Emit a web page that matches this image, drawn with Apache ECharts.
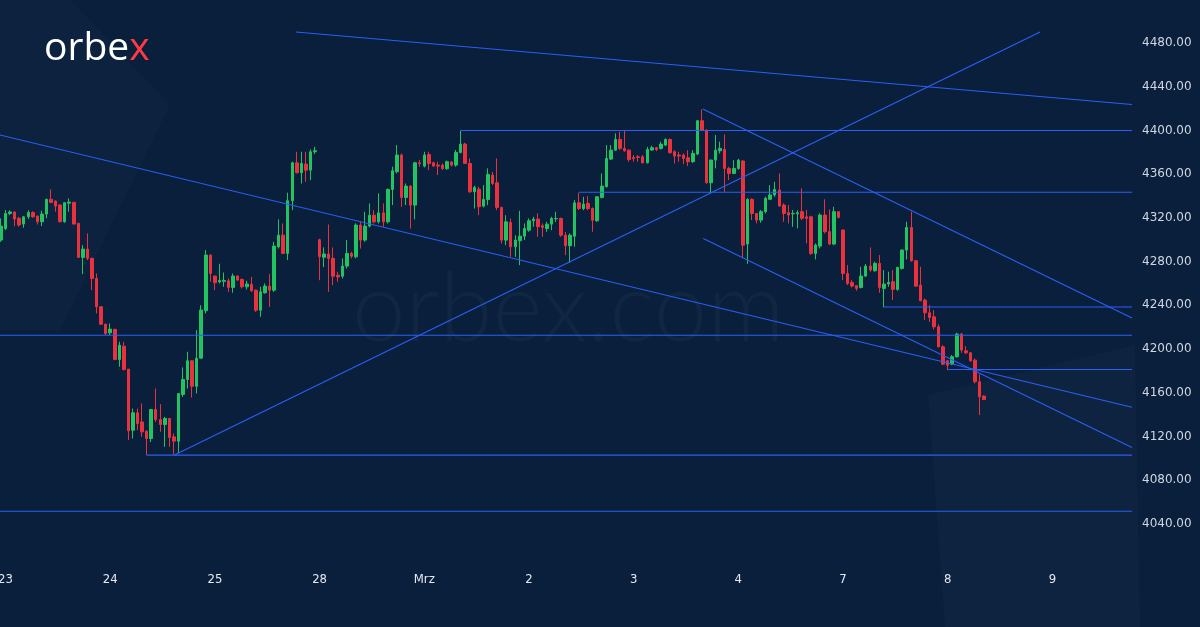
<!DOCTYPE html>
<html>
<head>
<meta charset="utf-8">
<script src="https://cdn.jsdelivr.net/npm/echarts@6/dist/echarts.min.js"></script>
<style>
  html, body { margin: 0; padding: 0; background: #0a1f3c; }
  #chart { width: 1200px; height: 627px; }
</style>
</head>
<body>
<div id="chart"></div>
<script>
// day labels on the time axis, one per 23 hourly candles
const dayLabels = ["23", "24", "25", "28", "Mrz", "2", "3", "4", "7", "8", "9"];
const candlesPerDay = 23;
const slots = 249; // candle slots across the plot, right part stays empty

// hourly candles [open, close, low, high]
const day22 = [[4299.7, 4312.5, 4298, 4319.6]];
const day23 = [
  [4310.4, 4324.1, 4308.9, 4327.2], [4324, 4325.5, 4322.6, 4327], [4325.3, 4319, 4312.5, 4326],
  [4319.6, 4313.5, 4312, 4321], [4314.4, 4321, 4311, 4321.5], [4321, 4325, 4319, 4327],
  [4325, 4321, 4320, 4326], [4321.7, 4316.5, 4314, 4322], [4316.5, 4323.5, 4312.5, 4326.6],
  [4323.5, 4337, 4319.6, 4337.5], [4337, 4334.2, 4333.5, 4346.1], [4335.4, 4330.8, 4325.7, 4336],
  [4331.8, 4316.5, 4316, 4332.5], [4316.5, 4333.9, 4315.5, 4334.5], [4333.5, 4334.5, 4325.7, 4337.9],
  [4334.2, 4314.4, 4314, 4334.8], [4315, 4283.9, 4283.5, 4315.5], [4283.9, 4291.5, 4268.6, 4295.1],
  [4291.5, 4283, 4281.4, 4305.8], [4283, 4264.6, 4254, 4283.5], [4264.6, 4238.7, 4232.6, 4269.2],
  [4238.7, 4222.8, 4222, 4239.2], [4222.8, 4214.3, 4213, 4223.2]
];
const day24 = [
  [4214.9, 4218.3, 4212.8, 4223.4], [4218, 4190.5, 4189.8, 4218.6], [4190.5, 4203.6, 4183.8, 4206.7],
  [4202.7, 4181.3, 4180.5, 4206.7], [4181.6, 4125.2, 4116.7, 4182], [4125.8, 4141.7, 4118.2, 4145.6],
  [4141.7, 4131.9, 4125.8, 4145.6], [4133.4, 4124.3, 4119.7, 4150.2], [4124.9, 4118.2, 4103, 4125.5],
  [4118.2, 4144.7, 4115, 4145.2], [4144.7, 4135.6, 4133.4, 4163.9], [4135.6, 4131, 4124.3, 4149.6],
  [4131, 4136.5, 4110.6, 4138], [4136.5, 4119.1, 4110.6, 4137], [4119.7, 4115.8, 4104, 4122.8],
  [4115.8, 4159.4, 4105, 4159.8], [4158.5, 4172.2, 4156.3, 4183.2], [4172.2, 4189.3, 4163.9, 4197.5],
  [4189.3, 4166, 4155.7, 4189.8], [4166, 4191.7, 4159.4, 4217.4], [4191.7, 4235.7, 4191.4, 4240.2],
  [4235.1, 4286, 4232.6, 4290.6], [4286, 4269.2, 4261.6, 4286.5]
];
const day25 = [
  [4266.8, 4260.7, 4254, 4267.2], [4261.5, 4262.8, 4260, 4278], [4262, 4262.8, 4257, 4270],
  [4262.5, 4256.4, 4252.4, 4264.6], [4256.4, 4266.8, 4251.5, 4269.2], [4266.8, 4263.1, 4262.5, 4267.5],
  [4263.7, 4257, 4255.5, 4264.6], [4257, 4259.5, 4254.5, 4262.5], [4259.4, 4253.3, 4252.4, 4266.1],
  [4253.9, 4235.6, 4234, 4254.5], [4235.6, 4252.4, 4229.5, 4257], [4251.5, 4257.6, 4250.8, 4260],
  [4257.6, 4253.9, 4238.6, 4268.5], [4253.9, 4294.2, 4252.4, 4298.1], [4293.6, 4304.2, 4292, 4318.6],
  [4304.2, 4287.5, 4287, 4314.9], [4287.5, 4335.7, 4281.4, 4343], [4335.7, 4370.4, 4327.1, 4371.4],
  [4370.4, 4361.3, 4360.7, 4380.5], [4361.3, 4369.8, 4351.5, 4380.5], [4369.2, 4363.7, 4353, 4380.5],
  [4363.7, 4380.5, 4354.6, 4382.7], [4380.5, 4381.5, 4378.4, 4385]
];
const day28 = [
  [4300, 4284.5, 4263, 4301], [4284, 4287, 4275, 4293], [4287, 4283, 4252.4, 4314],
  [4283, 4266.7, 4258.5, 4293], [4267.6, 4266, 4261.6, 4270.6], [4266.7, 4275.9, 4264.6, 4282.9],
  [4275.9, 4287.5, 4273.7, 4299.7], [4287.5, 4285, 4283, 4289], [4284.4, 4313.4, 4283, 4315],
  [4313.4, 4299.7, 4292, 4316.4], [4299.7, 4312.5, 4298.1, 4325.6], [4312.5, 4322.5, 4311.3, 4333.2],
  [4322.5, 4316.4, 4315, 4327.1], [4316.4, 4324.6, 4314.9, 4342.4], [4324.6, 4316.4, 4311.9, 4333.2],
  [4316.4, 4346, 4314.9, 4347], [4346, 4363.1, 4331.7, 4366.8], [4362.2, 4377.5, 4360.7, 4386.6],
  [4377.5, 4338.7, 4330.2, 4379], [4338.7, 4349.1, 4331.7, 4351.5], [4349.1, 4331.7, 4310.3, 4349.9],
  [4331.7, 4370.4, 4318.6, 4371.4], [4370.4, 4369.8, 4366.8, 4372.9]
];
const mar1 = [
  [4367.4, 4377.5, 4366.2, 4380.5], [4378, 4369.8, 4363.7, 4380.5], [4370.4, 4367.4, 4366.8, 4371.4],
  [4368.3, 4367.4, 4359.2, 4371.4], [4368.3, 4365, 4363.7, 4369.8], [4365, 4371.4, 4364, 4372.5],
  [4371.1, 4368.3, 4367, 4372], [4368.3, 4379.9, 4366.8, 4382.1], [4379.9, 4387.5, 4379, 4399.7],
  [4387.5, 4369.8, 4369.5, 4388.8], [4369.8, 4343.9, 4343, 4374.4], [4343.9, 4347.9, 4328.6, 4349.4],
  [4346.3, 4330.2, 4322.5, 4348.5], [4330.8, 4336.9, 4329.6, 4350], [4336.9, 4359.8, 4331.7, 4365.3],
  [4359.2, 4351.5, 4350, 4362], [4352.1, 4329.6, 4327.1, 4374.4], [4329.6, 4299.7, 4296.6, 4330.2],
  [4299.7, 4316.4, 4295.1, 4322.5], [4315.8, 4293.6, 4284.4, 4319.5], [4293.6, 4299.7, 4284.4, 4304.2],
  [4299.1, 4303.3, 4276.8, 4326.5], [4303.3, 4310.3, 4299.7, 4314.9]
];
const mar2 = [
  [4308.8, 4317.4, 4307.3, 4319.5], [4317.4, 4318.9, 4311.9, 4321], [4318.9, 4311.9, 4302.7, 4324.1],
  [4312.8, 4311.3, 4302.7, 4314.9], [4310.3, 4314.3, 4307.3, 4316.4], [4314.3, 4319.5, 4308.8, 4321],
  [4319.2, 4319.5, 4316.4, 4325.6], [4319.5, 4304.2, 4302.7, 4320.4], [4304.2, 4294.5, 4285.9, 4307.3],
  [4294.5, 4304.2, 4278.9, 4305.8], [4303.3, 4333.8, 4293.6, 4336.3], [4333.8, 4328.6, 4327.1, 4343],
  [4328.6, 4332.6, 4327.1, 4339.3], [4333.2, 4328.6, 4327.1, 4339.9], [4328.6, 4317.9, 4307.3, 4329.6],
  [4317.4, 4339.3, 4316.4, 4339.8], [4338.7, 4349.1, 4337.8, 4360.7], [4348.5, 4374.4, 4347.9, 4386.6],
  [4373.8, 4382, 4372.9, 4386.6], [4382, 4391.8, 4381.4, 4397.3], [4391.8, 4383.6, 4382, 4398.8],
  [4383.6, 4381.4, 4380.5, 4399.7], [4382, 4373.5, 4371.4, 4382.6]
];
const mar3 = [
  [4375.3, 4374.4, 4371.4, 4377.5], [4375.9, 4375.3, 4371.4, 4377.5], [4375.9, 4370.4, 4369.8, 4377.5],
  [4370.4, 4382.6, 4369.8, 4385], [4382.1, 4384.2, 4381.4, 4386], [4384.2, 4382.6, 4381, 4385],
  [4383.6, 4387.5, 4382.6, 4389.7], [4386.6, 4391.8, 4385.7, 4392.7], [4391.8, 4379.6, 4379, 4392.7],
  [4380.5, 4376.6, 4369.8, 4382], [4377.5, 4376.6, 4371.4, 4380.5], [4377.5, 4374.4, 4369.2, 4379],
  [4375, 4371.4, 4367.4, 4382], [4371.4, 4379, 4370.4, 4382], [4378.4, 4408.9, 4377.5, 4409.5],
  [4408.9, 4400.3, 4399.7, 4419.3], [4400.3, 4352.1, 4351.5, 4401], [4352.1, 4372.9, 4342.4, 4373.5],
  [4372.9, 4382, 4365.3, 4395.8], [4381.4, 4383.6, 4379, 4389.7], [4382.6, 4365.3, 4343.9, 4396.4],
  [4365.3, 4360.7, 4354.6, 4366.8], [4360.7, 4365.3, 4360.1, 4372.9]
];
const mar4 = [
  [4365.3, 4372.9, 4364, 4374], [4372, 4295, 4284, 4373], [4296.1, 4337, 4278, 4337.9],
  [4337, 4324.1, 4318, 4337.9], [4324.1, 4318, 4315, 4324.5], [4318, 4325.7, 4315.6, 4327.2],
  [4325.7, 4337.9, 4324.1, 4339.4], [4337, 4341, 4336.4, 4350], [4341, 4346.1, 4339.4, 4353.1],
  [4345.5, 4330.8, 4330.5, 4360.7], [4331.8, 4324.1, 4316.5, 4333.3], [4324.7, 4322.6, 4315, 4331.8],
  [4323.7, 4324.1, 4311.9, 4327.2], [4323.7, 4324.7, 4310.4, 4327], [4325.7, 4319.6, 4318, 4347],
  [4321, 4319.6, 4296.7, 4327.2], [4321, 4287.5, 4286, 4322], [4287.5, 4295.1, 4282, 4296.7],
  [4294.2, 4322.6, 4292.1, 4324.1], [4322.6, 4307.4, 4305.8, 4337], [4307.4, 4296.1, 4295.1, 4327.8],
  [4296.1, 4325.7, 4295.1, 4330.2], [4325.7, 4320.5, 4319.6, 4326.3]
];
const mar7 = [
  [4308.9, 4269.2, 4263.1, 4309.5], [4269.2, 4260.1, 4258.5, 4276.8], [4261, 4257.6, 4256.4, 4263.1],
  [4258, 4255.5, 4253.4, 4258.5], [4256.4, 4266.8, 4255.5, 4275.3], [4266.8, 4275.9, 4266, 4277.8],
  [4275.9, 4272.3, 4270.8, 4293], [4271.7, 4278.4, 4270.8, 4279.9], [4278.4, 4256.4, 4251.5, 4286],
  [4255.5, 4259.5, 4238.1, 4272.3], [4259.5, 4261, 4257, 4270.8], [4261.6, 4254.6, 4244.8, 4272.3],
  [4254.6, 4274.7, 4253.4, 4275.3], [4273.8, 4290.6, 4272.9, 4291.2], [4290.6, 4311.3, 4282, 4316.5],
  [4311.3, 4280.8, 4279.9, 4325.7], [4280.8, 4257.6, 4257, 4281.5], [4258.5, 4244.2, 4243.9, 4275.3],
  [4244.8, 4233.2, 4226.5, 4246.3], [4233.2, 4228.9, 4225, 4240.2], [4229.5, 4220.4, 4218, 4235.6],
  [4220.4, 4202.1, 4201.5, 4222.8], [4202.1, 4186.2, 4185.3, 4203.6]
];
const mar8 = [
  [4189.3, 4185.3, 4180.7, 4189.9], [4186.2, 4193, 4185.3, 4194.5], [4193, 4213.7, 4192.3, 4214.9],
  [4213.7, 4199.1, 4196.6, 4214.9], [4198.4, 4196.6, 4195.4, 4202.7], [4196.6, 4189.3, 4188.4, 4197.5],
  [4189.9, 4170.1, 4168.5, 4191.4], [4170.1, 4156.3, 4139.6, 4177], [4157, 4153.9, 4153.3, 4157.8]
];

// drawn lines in data units: [fromSlot, fromPrice, toSlot, toPrice]
const trendLines = [
  [64.8, 4490.1, 248.5, 4423.7],
  [-0.5, 4396.1, 248.5, 4146.8],
  [38.0, 4103, 228.3, 4490.1],
  [154.2, 4419.6, 248.5, 4228.5],
  [154.3, 4301.2, 248.5, 4110]
];
// horizontal levels: [fromSlot, price], running to the right edge
const levels = [
  [101, 4400], [127, 4343.5], [194, 4238.5], [-0.5, 4212.7],
  [208, 4181.3], [32, 4103], [-0.5, 4051.6]
];

const yTicks = { min: 4000, max: 4520, step: 40 };

const UP = "#22c462";
const DOWN = "#ea323f";
const LINE = "#2b5ff5";

const candles = [].concat(day22, day23, day24, day25, day28, mar1, mar2, mar3, mar4, mar7, mar8);

const categories = [];
for (let d = 0; d < slots; d++) {
  const k = Math.floor((d - 1) / candlesPerDay);
  const name = k < 0 ? "22" : dayLabels[Math.min(k, dayLabels.length - 1)];
  categories.push(name + " " + (d - 1 - k * candlesPerDay));
}

const lineSeries = [];
trendLines.forEach((t) => {
  lineSeries.push({ type: "line", xAxisIndex: 1, data: [[t[0], t[1]], [t[2], t[3]]] });
});
levels.forEach((l) => {
  lineSeries.push({ type: "line", xAxisIndex: 1, data: [[l[0], l[1]], [slots - 0.5, l[1]]] });
});
lineSeries.forEach((s) => {
  s.symbol = "none";
  s.silent = true;
  s.z = 3;
  s.lineStyle = { color: LINE, width: 1.1 };
});

const myChart = echarts.init(document.getElementById("chart"));
const option = {
  backgroundColor: "#0a1f3c",
  animation: false,
  graphic: [
    // faint background shapes
    { type: "polygon", z: -10, shape: { points: [[0, 0], [70, 0], [170, 105], [60, 330], [0, 330]] }, style: { fill: "rgba(255,255,255,0.014)" } },
    { type: "polygon", z: -10, shape: { points: [[928, 395], [1135, 345], [1140, 627], [945, 627]] }, style: { fill: "rgba(255,255,255,0.018)" } },
    {
      type: "text", z: -5, left: 352, top: 262,
      style: { text: "orbex.com", fill: "rgba(255,255,255,0.03)", font: "300 96px Lato, 'Open Sans', sans-serif" }
    },
    {
      type: "text", z: 10, x: 44, y: 49,
      style: {
        text: "{a|orbe}{b|x}",
        verticalAlign: "middle",
        rich: {
          a: { fill: "#ffffff", font: "39px 'Open Sans', sans-serif" },
          b: { fill: "#ff3a44", font: "39px 'Open Sans', sans-serif" }
        }
      }
    }
  ],
  grid: { left: -1.3, right: 68, top: -0.73, bottom: 59.27, containLabel: false, outerBoundsMode: "none" },
  xAxis: [
    {
      type: "category",
      data: categories,
      boundaryGap: true,
      axisLine: { show: false },
      axisTick: { show: false },
      splitLine: { show: false },
      axisLabel: {
        interval: (idx) => idx >= 1 && (idx - 1) % candlesPerDay === 0,
        formatter: (v) => v.split(" ")[0],
        color: "#e4e9f0",
        fontSize: 13,
        fontFamily: "'DejaVu Sans Condensed', 'Liberation Sans Narrow', sans-serif",
        margin: 5
      }
    },
    { type: "value", min: -0.5, max: slots - 0.5, show: false }
  ],
  yAxis: {
    type: "value",
    position: "right",
    min: yTicks.min,
    max: yTicks.max,
    interval: yTicks.step,
    axisLine: { show: false },
    axisTick: { show: false },
    splitLine: { show: false },
    axisLabel: {
      showMinLabel: false,
      showMaxLabel: false,
      formatter: (v) => v.toFixed(2),
      color: "#cfd6e2",
      fontSize: 12,
      fontFamily: "'DejaVu Sans', sans-serif",
      margin: 10
    }
  },
  series: [
    {
      type: "candlestick",
      xAxisIndex: 0,
      data: candles,
      barWidth: 3,
      z: 2,
      itemStyle: {
        color: UP,
        color0: DOWN,
        borderColor: UP,
        borderColor0: DOWN,
        borderWidth: 1
      }
    }
  ].concat(lineSeries)
};
option && myChart.setOption(option);
</script>
</body>
</html>
